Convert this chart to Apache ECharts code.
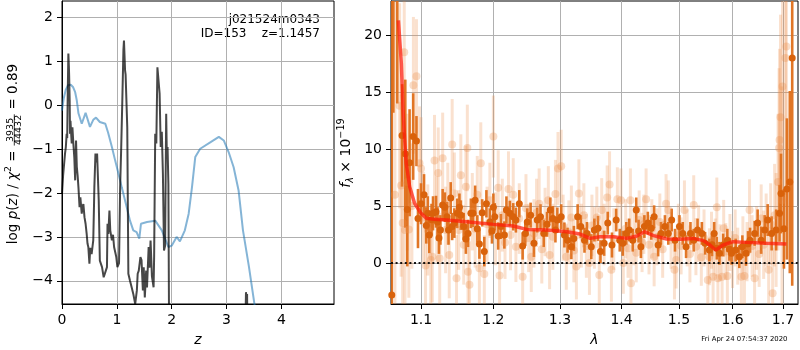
<!DOCTYPE html>
<html>
<head>
<meta charset="utf-8">
<script src="https://cdn.jsdelivr.net/npm/echarts@6/dist/echarts.min.js"></script>
<style>
  html, body { margin: 0; padding: 0; background: #fff; }
  #chart { width: 800px; height: 350px; }
</style>
</head>
<body>
<div id="chart"></div>
<script>
// ---- redshift probability panel ----
const zTicks = [0, 1, 2, 3, 4];
const logpTicks = [-4, -3, -2, -1, 0, 1, 2];

// template-fit log p(z) (smooth curve)
const templateZ = [0, 0.03, 0.07, 0.11, 0.16, 0.2, 0.24, 0.27, 0.3, 0.36, 0.43, 0.51, 0.57, 0.62, 0.69, 0.79, 0.84, 0.91, 0.97,
  1.03, 1.09, 1.15, 1.24, 1.30, 1.36, 1.39, 1.41, 1.44, 1.55, 1.70, 1.82, 1.94, 2.0, 2.09, 2.15, 2.24, 2.31, 2.37, 2.43,
  2.52, 2.71, 2.86, 2.95, 3.04, 3.13, 3.22, 3.30, 3.41, 3.51, 3.7, 4.0, 4.5, 4.96];
const templateLogP = [-0.12, 0.15, 0.36, 0.46, 0.47, 0.42, 0.3, 0.11, -0.18, -0.42, -0.17, -0.49, -0.33, -0.28, -0.38, -0.42, -0.62, -0.95, -1.26,
  -1.56, -1.87, -2.17, -2.63, -2.85, -2.89, -2.9, -3.04, -2.70, -2.66, -2.63, -2.85, -3.23, -3.2, -3.0, -3.1, -2.85, -2.47, -1.87, -1.18,
  -0.99, -0.84, -0.72, -0.80, -1.07, -1.41, -1.94, -2.85, -3.69, -4.54, -6.2, -8.5, -12, -15];

// grism chi-square log p(z) (jagged curve)
const grismZ = [0.0, 0.02, 0.055, 0.07, 0.085, 0.095, 0.105, 0.116, 0.125, 0.13, 0.14, 0.146, 0.155, 0.165, 0.177, 0.19, 0.207,
  0.225, 0.24, 0.256, 0.27, 0.285, 0.30, 0.32, 0.335, 0.36, 0.375, 0.39, 0.41, 0.43, 0.45, 0.465, 0.48, 0.50, 0.515, 0.54,
  0.57, 0.585, 0.59, 0.61, 0.625, 0.64, 0.67, 0.69, 0.73, 0.76, 0.79, 0.82, 0.83, 0.845, 0.865, 0.88, 0.91, 0.93, 0.95,
  0.99, 1.01, 1.04, 1.06, 1.08, 1.10, 1.12, 1.13, 1.15, 1.16, 1.19, 1.21, 1.24, 1.27, 1.30, 1.335, 1.365, 1.38, 1.40,
  1.43, 1.45, 1.475, 1.49, 1.51, 1.535, 1.55, 1.58, 1.595, 1.615, 1.64, 1.67, 1.68, 1.70, 1.72, 1.74, 1.755, 1.78, 1.80,
  1.82, 1.84, 1.86, 1.88, 1.90, 1.91, 1.925, 1.94, 1.95, 1.97, 2.5, 3.2, 3.33, 3.355, 3.365, 3.375, 3.39, 3.6, 4.96];
const grismLogP = [-2.02, -1.6, -1.1, -0.95, -0.65, -0.75, 0.3, 1.18, 0.9, 0.7, 0.1, -0.65, -0.35, -0.6, -0.87, -0.5, -0.87,
  -1.2, -1.71, -0.8, -1.4, -1.6, -1.87, -2.32, -2.1, -2.47, -2.3, -2.25, -2.55, -2.7, -2.93, -3.15, -3.23, -3.61, -3.25, -3.39,
  -3.08, -2.2, -1.87, -1.1, -1.3, -1.1, -2.17, -3.54, -3.69, -3.92, -3.93, -3.69, -2.70, -2.93, -2.40, -2.85, -3.08, -2.95, -3.23,
  -3.46, -3.69, -3.6, -1.87, -0.95, 0.11, 1.26, 1.48, 0.8, 0.7, -0.5, -3.84, -4.0, -4.15, -4.3, -4.53, -4.22, -3.84, -3.77,
  -3.46, -3.53, -4.22, -3.69, -4.38, -3.77, -4.15, -3.23, -3.7, -3.08, -3.9, -4.15, -3.46, -0.65, -0.87, 0.87, 0.9, 0.27, -0.95,
  -0.6, -1.56, -3.31, -3.2, -0.19, -1.03, -0.95, -1.79, -4.45, -7, -9, -8, -6, -4.26, -4.4, -4.3, -6, -9, -12];

// ---- spectrum panel ----
const lamTicks = [1.1, 1.2, 1.3, 1.4, 1.5, 1.6, 1.7];
const fluxTicks = [0, 5, 10, 15, 20];

// individual exposures: [lambda, flux, error]
const exposureSpec = [
  [1.066, 6.0, 20], [1.072, 13.8, 9], [1.074, 6.8, 8], [1.076, 3.5, 9], [1.078, 18.5, 7], [1.079, 2.9, 7], [1.082, 7.1, 6],
  [1.084, 2.95, 6], [1.088, 5.0, 5.5], [1.090, 15.6, 6], [1.094, 16.4, 5], [1.098, 8.75, 5], [1.100, 8.3, 4.5], [1.103, 4.0, 4],
  [1.106, -0.23, 4.5], [1.109, 2.9, 4], [1.113, 0.26, 4.2], [1.115, 0.55, 4], [1.118, 9.0, 4], [1.121, 3.8, 3.8], [1.123, 7.9, 4],
  [1.125, 0.4, 4], [1.129, 9.2, 4], [1.133, 2.9, 3.8], [1.136, 5.2, 3.6], [1.138, 0.7, 3.8], [1.142, 10.4, 4], [1.145, 6.1, 3.6],
  [1.148, -1.35, 3.8], [1.151, 2.9, 3.5], [1.154, 7.7, 3.6], [1.158, 1.6, 3.5], [1.161, 6.7, 3.6], [1.163, 10.1, 3.8],
  [1.164, -0.76, 3.6], [1.166, -1.9, 3.8], [1.170, 4.5, 3.4], [1.174, 3.0, 3.4], [1.177, 6.0, 3.4], [1.180, -0.47, 3.5],
  [1.182, 8.75, 3.6], [1.187, -0.96, 3.4], [1.191, 3.4, 3.3], [1.195, 5.5, 3.3], [1.200, 11.1, 3.6], [1.203, 3.0, 3.2],
  [1.207, 6.6, 3.3], [1.209, -1.1, 3.4], [1.213, 4.2, 3.2], [1.217, 1.8, 3.2], [1.222, 6.5, 3.3], [1.225, 2.46, 3.1],
  [1.229, 6.0, 3.2], [1.233, 1.43, 3.1], [1.238, 3.9, 3.1], [1.243, -1.2, 3.2], [1.248, 4.8, 3.0], [1.252, 2.2, 3.0],
  [1.256, 0.55, 3.1], [1.260, 2.6, 3.0], [1.264, 4.4, 3.0], [1.268, 5.2, 3.1], [1.272, 1.2, 3.0], [1.277, 3.6, 3.0],
  [1.282, 5.5, 3.0], [1.284, 0.7, 3.0], [1.289, 2.3, 2.9], [1.293, 6.05, 3.0], [1.297, 8.3, 3.2], [1.302, 8.5, 3.2],
  [1.305, 3.1, 2.9], [1.310, 0.55, 2.9], [1.314, 2.7, 2.8], [1.318, 4.0, 2.8], [1.322, 1.1, 2.8], [1.326, -0.3, 2.9],
  [1.330, 6.1, 3.0], [1.334, 2.4, 2.8], [1.338, 4.2, 2.8], [1.342, 1.5, 2.8], [1.347, 0.0, 2.8], [1.351, 3.3, 2.7],
  [1.355, 2.2, 2.7], [1.359, 4.0, 2.7], [1.363, -1.05, 2.8], [1.367, 4.65, 2.8], [1.371, 2.5, 2.7], [1.376, 5.76, 2.8],
  [1.380, 6.9, 2.9], [1.383, -0.6, 2.8], [1.387, 2.1, 2.7], [1.393, 5.6, 2.8], [1.399, 5.5, 2.8], [1.403, 0.0, 2.7],
  [1.407, 3.0, 2.6], [1.411, 1.3, 2.6], [1.415, 5.5, 2.8], [1.416, -1.78, 2.8], [1.421, 2.4, 2.6], [1.425, 0.9, 2.6],
  [1.430, 3.77, 2.6], [1.435, 1.8, 2.6], [1.438, 3.4, 2.6], [1.442, 5.6, 2.7], [1.447, 1.6, 2.6], [1.452, 3.0, 2.6],
  [1.456, 0.55, 2.6], [1.461, 2.3, 2.5], [1.466, 3.6, 2.5], [1.471, 1.2, 2.5], [1.477, 5.2, 2.6], [1.481, 4.65, 2.6],
  [1.486, 2.0, 2.5], [1.492, -0.6, 2.6], [1.495, 0.26, 2.5], [1.499, 2.7, 2.5], [1.504, 1.5, 2.5], [1.510, 4.65, 2.6],
  [1.515, 2.2, 2.5], [1.520, 0.8, 2.5], [1.527, 5.1, 2.6], [1.531, 1.43, 2.5], [1.536, 2.6, 2.5], [1.541, 0.5, 2.5],
  [1.546, 2.2, 2.5], [1.553, -1.5, 2.6], [1.556, 0.55, 2.5], [1.560, 2.0, 2.5], [1.563, -1.2, 2.5], [1.567, 1.4, 2.5],
  [1.570, 4.9, 2.6], [1.572, -1.35, 2.5], [1.576, 0.9, 2.5], [1.580, -1.2, 2.5], [1.583, 3.04, 2.5], [1.587, 1.0, 2.5],
  [1.590, -1.14, 2.5], [1.595, 1.8, 2.5], [1.600, 0.3, 2.5], [1.605, 2.2, 2.5], [1.610, 0.6, 2.5], [1.617, -1.2, 2.5],
  [1.620, 1.6, 2.5], [1.623, -1.14, 2.6], [1.628, 1.0, 2.6], [1.633, 4.65, 2.7], [1.638, 1.5, 2.7], [1.643, -1.35, 2.8],
  [1.647, 2.2, 2.8], [1.652, 0.8, 2.9], [1.656, 3.9, 3.0], [1.661, 1.6, 3.0], [1.666, 2.9, 3.2], [1.671, -0.6, 3.4],
  [1.675, 3.4, 3.6], [1.679, -2.66, 4], [1.683, 4.2, 4.5], [1.686, 2.9, 5], [1.690, 7.1, 6], [1.692, 10.1, 7],
  [1.693, 10.8, 8], [1.695, 12.8, 9], [1.698, 5.5, 10], [1.699, 15.5, 10], [1.705, 18.0, 12], [1.707, 19.0, 14]
];

// combined spectrum: [lambda, flux, error]
const combinedSpec = [
  [1.062, -2.8, 30], [1.064, 28, 14.8], [1.069, 24, 10], [1.0752, 11.2, 4.5], [1.0794, 9.6, 6.5], [1.0820, 4.7, 5],
  [1.0850, 8.8, 4.7], [1.0897, 11.1, 3.8], [1.094, 10.7, 2.2], [1.096, 3.9, 2.6], [1.100, 5.2, 1.8], [1.104, 6.0, 1.8],
  [1.107, 3.3, 1.6], [1.109, 4.36, 1.5], [1.111, 2.46, 1.6], [1.114, 3.8, 1.4], [1.116, 4.36, 1.5], [1.120, 4.5, 1.4],
  [1.122, 3.6, 1.3], [1.124, 2.2, 1.4], [1.126, 2.9, 1.3], [1.129, 5.1, 1.4], [1.132, 4.9, 1.3], [1.135, 4.06, 1.3],
  [1.137, 2.9, 1.3], [1.140, 5.7, 1.4], [1.142, 3.2, 1.2], [1.145, 3.5, 1.3], [1.149, 4.36, 1.3], [1.152, 4.9, 1.2],
  [1.154, 4.2, 1.3], [1.158, 3.2, 1.2], [1.161, 2.1, 1.3], [1.164, 2.6, 1.2], [1.168, 4.36, 1.3], [1.171, 4.36, 1.2],
  [1.174, 5.5, 1.3], [1.177, 3.0, 1.2], [1.180, 1.67, 1.3], [1.184, 4.4, 1.2], [1.187, 1.0, 1.3], [1.190, 5.2, 1.2],
  [1.195, 3.6, 1.2], [1.198, 2.8, 1.1], [1.200, 4.9, 1.2], [1.202, 4.06, 1.2], [1.207, 2.37, 1.2], [1.211, 3.2, 1.1],
  [1.216, 2.46, 1.2], [1.219, 4.65, 1.2], [1.224, 4.36, 1.1], [1.229, 4.06, 1.2], [1.233, 3.77, 1.1], [1.238, 5.2, 1.2],
  [1.243, 1.5, 1.2], [1.247, 2.6, 1.1], [1.250, 3.6, 1.2], [1.255, 4.2, 1.1], [1.260, 1.73, 1.2], [1.265, 3.77, 1.1],
  [1.270, 4.06, 1.1], [1.275, 2.6, 1.2], [1.280, 3.4, 1.1], [1.285, 4.65, 1.1], [1.289, 3.9, 1.1], [1.293, 2.9, 1.1],
  [1.296, 3.77, 1.1], [1.302, 4.06, 1.1], [1.307, 2.46, 1.1], [1.312, 2.0, 1.1], [1.318, 1.43, 1.1], [1.322, 2.16, 1.1],
  [1.328, 4.06, 1.1], [1.333, 3.2, 1.0], [1.339, 2.0, 1.1], [1.343, 2.6, 1.0], [1.350, 1.43, 1.1], [1.355, 2.9, 1.0],
  [1.361, 3.04, 1.1], [1.365, 1.0, 1.0], [1.371, 1.73, 1.1], [1.377, 3.5, 1.0], [1.384, 1.58, 1.1], [1.391, 3.77, 1.0],
  [1.397, 2.0, 1.0], [1.402, 1.73, 1.1], [1.408, 2.6, 1.0], [1.413, 2.9, 1.0], [1.419, 2.0, 1.0], [1.425, 4.65, 1.1],
  [1.429, 2.8, 1.0], [1.433, 1.43, 1.0], [1.439, 3.2, 1.0], [1.445, 3.5, 1.0], [1.451, 3.04, 1.0], [1.456, 4.06, 1.0],
  [1.463, 1.58, 1.0], [1.468, 2.6, 1.0], [1.475, 3.2, 1.0], [1.481, 2.6, 1.0], [1.487, 3.77, 1.0], [1.493, 2.0, 1.0],
  [1.501, 3.2, 1.0], [1.507, 2.6, 1.0], [1.513, 1.43, 1.0], [1.521, 2.6, 1.0], [1.527, 2.0, 1.0], [1.534, 2.9, 1.0],
  [1.542, 2.6, 1.0], [1.548, 1.73, 1.0], [1.556, 1.14, 1.0], [1.561, 1.6, 1.0], [1.565, 2.6, 1.0], [1.570, 1.3, 1.0],
  [1.575, 0.85, 1.0], [1.582, 1.58, 1.0], [1.590, 2.0, 1.0], [1.594, 1.2, 1.0], [1.598, 0.85, 1.0], [1.606, 1.14, 1.0],
  [1.613, 0.55, 1.0], [1.619, 1.43, 1.0], [1.626, 0.85, 1.1], [1.630, 1.7, 1.1], [1.634, 2.0, 1.1], [1.643, 2.6, 1.1],
  [1.649, 3.5, 1.2], [1.656, 2.0, 1.2], [1.663, 2.9, 1.3], [1.669, 3.77, 1.4], [1.677, 2.6, 1.5], [1.686, 2.9, 1.8],
  [1.693, 4.36, 2.5], [1.696, 6.1, 3.5], [1.702, 3.0, 3.5], [1.708, 6.5, 6.2], [1.714, 7.1, 8], [1.719, 18.0, 20]
];

// best-fit template model
const modelLam = [1.0705, 1.0743, 1.0765, 1.0786, 1.0806, 1.0851, 1.0915, 1.100, 1.107, 1.118, 1.134, 1.162, 1.200,
  1.229, 1.249, 1.279, 1.311, 1.332, 1.348, 1.364, 1.386, 1.409, 1.426, 1.439, 1.455, 1.478, 1.502, 1.526, 1.545, 1.557,
  1.568, 1.582, 1.601, 1.627, 1.666, 1.707];
const modelFlux = [21.3, 17.5, 13.4, 10.8, 8.75, 6.7, 5.24, 4.36, 3.92, 3.83, 3.77, 3.62, 3.39, 3.25, 2.95, 2.89, 2.75,
  2.54, 2.16, 2.31, 2.31, 2.16, 2.37, 2.75, 2.4, 2.11, 2.08, 2.16, 1.96, 1.58, 1.14, 1.58, 1.87, 1.81, 1.73, 1.67];

const FONT = '"DejaVu Sans", sans-serif';
const zip = (a, b) => a.map((v, i) => [v, b[i]]);
const fmtMinus = v => String(v).replace('-', '\u2212');

// ---- rotated axis titles with math-style pieces ----
const measureCtx = document.createElement('canvas').getContext('2d');
function textWidth(t, size, italic) {
  measureCtx.font = (italic ? 'italic ' : '') + size + 'px "DejaVu Sans"';
  return measureCtx.measureText(t).width;
}
function textEl(t, x, y, size, italic, align) {
  return {
    type: 'text', x, y, silent: true,
    style: {
      text: t, fontSize: size, fontFamily: FONT, fontStyle: italic ? 'italic' : 'normal', fill: '#000',
      align: align || 'left', verticalAlign: 'middle', textAlign: align || 'left', textVerticalAlign: 'middle'
    }
  };
}
function rotatedTitle(pieces, cx, cy) {
  const widths = pieces.map(p => p.frac
    ? Math.max(textWidth(p.frac[0], p.s), textWidth(p.frac[1], p.s)) + 2
    : textWidth(p.t, p.s, p.i));
  const total = widths.reduce((a, b) => a + b, 0);
  let x = -total / 2;
  const children = [];
  pieces.forEach((p, k) => {
    const w = widths[k];
    if (p.frac) {
      children.push(textEl(p.frac[0], x + w / 2, p.num, p.s, false, 'center'));
      children.push(textEl(p.frac[1], x + w / 2, p.den, p.s, false, 'center'));
      children.push({ type: 'line', silent: true, shape: { x1: x + 0.5, y1: p.bar, x2: x + w - 0.5, y2: p.bar },
        style: { stroke: '#000', lineWidth: 0.8 } });
    } else {
      children.push(textEl(p.t, x, p.dy || 0, p.s, p.i));
    }
    x += w;
  });
  return { type: 'group', x: cx, y: cy, rotation: Math.PI / 2, children };
}

const logpTitle = rotatedTitle([
  { t: 'log ', s: 13.5 }, { t: 'p', s: 13.5, i: true }, { t: '(', s: 13.5 }, { t: 'z', s: 13.5, i: true }, { t: ') / ', s: 13.5 },
  { t: 'χ', s: 13.5, i: true }, { t: '2', s: 9.5, dy: -5 }, { t: ' = ', s: 13.5 },
  { frac: ['3935', '44432'], s: 9.5, num: -3.2, den: 4.6, bar: 0.8 }, { t: ' = 0.89', s: 13.5 }
], 13.5, 154);

const fluxTitle = rotatedTitle([
  { t: 'f', s: 14, i: true }, { t: 'λ', s: 9.7, i: true, dy: 3.5 }, { t: ' × 10', s: 14 }, { t: '\u221219', s: 9.7, dy: -5 }
], 346.5, 153);

// ---- error bars drawn through the axis scales ----
function errorBars(color, width, opacity) {
  return function (params, api) {
    const x = api.value(0), y = api.value(1), e = api.value(2);
    const top = api.coord([x, y + e]);
    const bot = api.coord([x, y - e]);
    return {
      type: 'line',
      shape: { x1: top[0], y1: top[1], x2: bot[0], y2: bot[1] },
      style: { stroke: color, lineWidth: width, opacity: opacity }
    };
  };
}

const gridLine = { show: true, lineStyle: { color: '#b0b0b0', width: 1 } };
const axisLine = { show: true, onZero: false, lineStyle: { color: '#000', width: 1 } };
const tickStyle = { color: '#000', width: 1 };
const labelStyle = { color: '#000', fontSize: 14, fontFamily: FONT };

const chart = echarts.init(document.getElementById('chart'), null, { renderer: 'canvas' });
chart.setOption({
  animation: false,
  backgroundColor: '#fff',
  grid: [
    { left: 62, top: 1, width: 272, height: 303, outerBoundsMode: 'none', containLabel: false,
      show: true, borderColor: '#000', borderWidth: 1, backgroundColor: 'transparent' },
    { left: 391, top: 1, width: 407, height: 303, outerBoundsMode: 'none', containLabel: false,
      show: true, borderColor: '#000', borderWidth: 1, backgroundColor: 'transparent' }
  ],
  xAxis: [
    {
      gridIndex: 0, type: 'value', min: 0, max: 4.96,
      axisLine, splitLine: gridLine,
      axisTick: { show: true, length: 5, customValues: zTicks, lineStyle: tickStyle },
      axisLabel: Object.assign({ customValues: zTicks, margin: 9 }, labelStyle),
      name: 'z', nameLocation: 'middle', nameGap: 29,
      nameTextStyle: { fontStyle: 'italic', fontSize: 14, fontFamily: FONT, color: '#000' }
    },
    {
      gridIndex: 1, type: 'log', logBase: 10, min: 1.061, max: 1.731,
      axisLine, splitLine: gridLine, minorSplitLine: { show: false },
      axisTick: { show: true, length: 5, customValues: lamTicks, lineStyle: tickStyle },
      axisLabel: Object.assign({ customValues: lamTicks, margin: 9, formatter: v => Number(v).toFixed(1) }, labelStyle),
      name: 'λ', nameLocation: 'middle', nameGap: 29,
      nameTextStyle: { fontStyle: 'italic', fontSize: 14, fontFamily: FONT, color: '#000' }
    }
  ],
  yAxis: [
    {
      gridIndex: 0, type: 'value', min: -4.53, max: 2.38,
      axisLine, splitLine: gridLine,
      axisTick: { show: true, length: 5, customValues: logpTicks, lineStyle: tickStyle },
      axisLabel: Object.assign({ customValues: logpTicks, margin: 9, formatter: fmtMinus }, labelStyle)
    },
    {
      gridIndex: 1, type: 'value', min: -3.6, max: 23.0,
      axisLine, splitLine: gridLine,
      axisTick: { show: true, length: 5, customValues: fluxTicks, lineStyle: tickStyle },
      axisLabel: Object.assign({ customValues: fluxTicks, margin: 9, formatter: fmtMinus }, labelStyle)
    }
  ],
  series: [
    {
      type: 'line', xAxisIndex: 0, yAxisIndex: 0, data: zip(templateZ, templateLogP),
      showSymbol: false, clip: true, silent: true,
      lineStyle: { color: '#1f77b4', opacity: 0.55, width: 2 }
    },
    {
      type: 'line', xAxisIndex: 0, yAxisIndex: 0, data: zip(grismZ, grismLogP),
      showSymbol: false, clip: true, silent: true,
      lineStyle: { color: '#000', opacity: 0.72, width: 2 }
    },
    {
      type: 'custom', xAxisIndex: 1, yAxisIndex: 1, data: exposureSpec, clip: true, silent: true,
      encode: { x: 0, y: 1 }, renderItem: errorBars('#ec8b45', 3, 0.26)
    },
    {
      type: 'scatter', xAxisIndex: 1, yAxisIndex: 1, data: exposureSpec.map(d => [d[0], d[1]]),
      symbolSize: 8, clip: true, silent: true,
      itemStyle: { color: '#ec8b45', opacity: 0.3 }
    },
    {
      type: 'custom', xAxisIndex: 1, yAxisIndex: 1, data: combinedSpec, clip: true, silent: true,
      encode: { x: 0, y: 1 }, renderItem: errorBars('#df6f1a', 2.6, 0.95)
    },
    {
      type: 'scatter', xAxisIndex: 1, yAxisIndex: 1, data: combinedSpec.map(d => [d[0], d[1]]),
      symbolSize: 7, clip: true, silent: true,
      itemStyle: { color: '#d9620b', opacity: 1 }
    },
    {
      type: 'line', xAxisIndex: 1, yAxisIndex: 1, data: zip(modelLam, modelFlux),
      showSymbol: false, clip: true, silent: true,
      lineStyle: { color: '#ff1a0a', opacity: 0.72, width: 3.5 },
      markLine: {
        silent: true, symbol: 'none', label: { show: false },
        lineStyle: { color: '#000', type: [2, 2.6], width: 1.8, opacity: 0.9 },
        data: [{ yAxis: 0 }]
      }
    }
  ],
  graphic: [
    logpTitle,
    fluxTitle,
    textEl('j021524m0343', 320, 20, 12, false, 'right'),
    textEl('ID=153    z=1.1457', 320, 34, 12, false, 'right'),
    textEl('Fri Apr 24 07:54:37 2020', 787.5, 339.5, 6.9, false, 'right')
  ]
});
</script>
</body>
</html>
